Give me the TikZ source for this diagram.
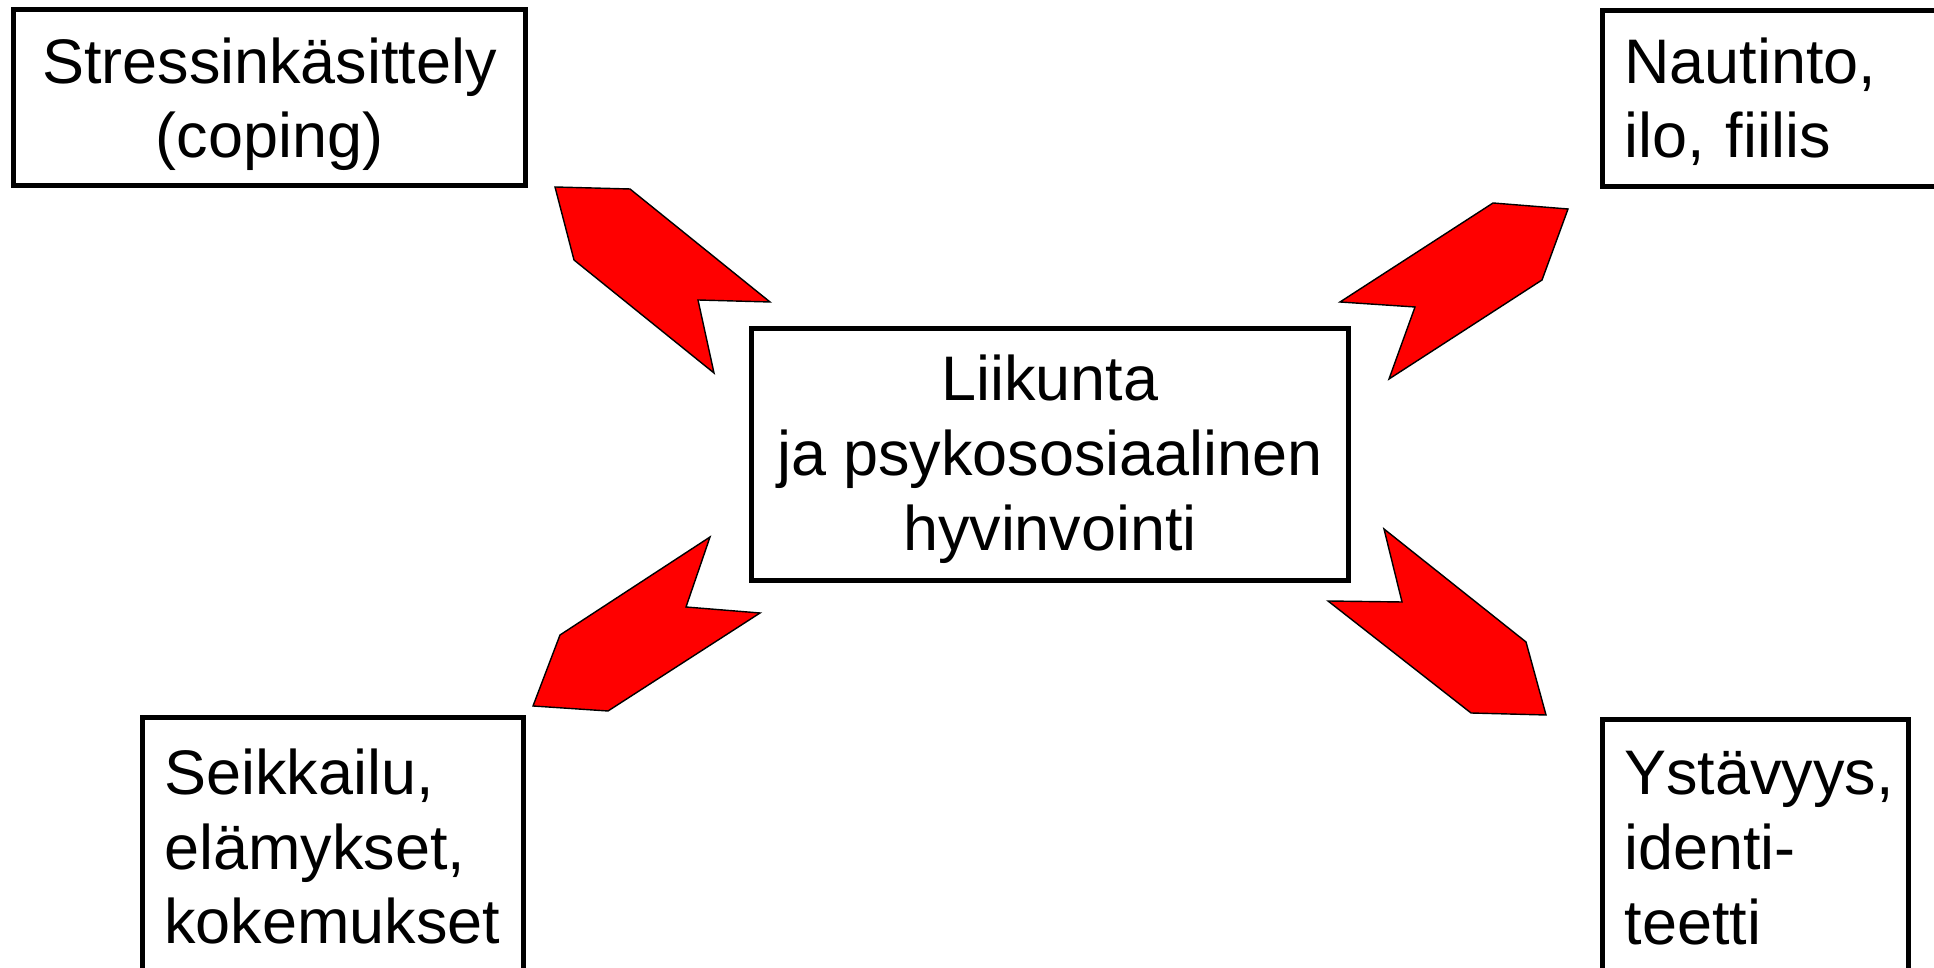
\documentclass[tikz,border=0pt]{standalone}
\usepackage{fontspec}
\setmainfont{Liberation Sans}
\usetikzlibrary{shapes}
\hyphenpenalty=10000

\begin{document}
\begin{tikzpicture}[x=0.01cm,y=-0.01cm,
  box/.style={draw,rectangle,line width=1.4pt,inner xsep=0.22cm,inner ysep=0pt,
    font=\fontsize{17.9pt}{21.3pt}\selectfont},
  bolt/.style={fill=red,draw=black,line width=0.4pt,line join=miter}]
  \useasboundingbox (0,0) rectangle (1934,968);
  \clip (0,0) rectangle (1934,968);
  \node[box,align=center,text height=1.34cm,minimum width=5.11cm,minimum height=1.76cm] (stress) at (269.5,97.5) {Stressinkäsittely\\(coping)};
  \node[box,align=left,text width=3.1cm,text height=0.52cm,minimum height=1.76cm,anchor=north west] (nautinto) at (1600,8) {Nautinto,\\ilo, fiilis};
  \node[box,align=center,text height=2.04cm,minimum width=5.96cm,minimum height=2.52cm] (hub) at (1050,454.5) {Liikunta\\ja psykososiaalinen\\hyvinvointi};
  \node[box,align=left,text width=3.37cm,minimum height=2.58cm,anchor=north west] (seikkailu) at (140,715) {Seikkailu,\\elämykset,\\kokemukset};
  \node[box,align=left,text width=2.62cm,minimum height=2.58cm,anchor=north west] (ystava) at (1600,717) {Ystävyys,\\identi-\\teetti};
  % red bolts between the hub and the four boxes
  \draw[bolt] (555,187) -- (630,189) -- (770,302) -- (698,300) -- (714,373) -- (574,260) -- cycle;
  \draw[bolt] (1493,203) -- (1568,209) -- (1542,280) -- (1389,379) -- (1415,307) -- (1340,302) -- cycle;
  \draw[bolt] (710,537) -- (686,607) -- (760,613) -- (608,711) -- (533,706) -- (560,635) -- cycle;
  \draw[bolt] (1384,529) -- (1526,642) -- (1546,715) -- (1471,713) -- (1328,601) -- (1402,602) -- cycle;
\end{tikzpicture}
\end{document}
